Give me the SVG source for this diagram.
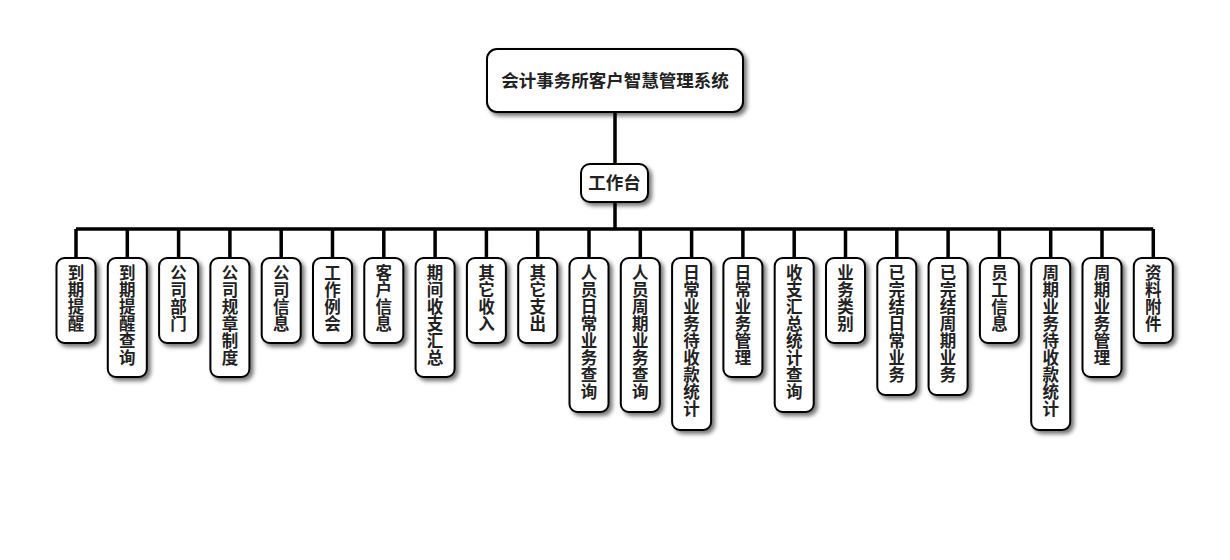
<svg xmlns="http://www.w3.org/2000/svg" width="1230" height="560" viewBox="0 0 1230 560">
<defs>
<filter id="sh" x="-30%" y="-30%" width="160%" height="160%">
<feDropShadow dx="3" dy="3" stdDeviation="2" flood-color="#000" flood-opacity="0.55"/>
</filter>
<style>
.box{fill:#fff;stroke:#000;stroke-width:2;filter:url(#sh)}
.t{font-family:"Noto Sans CJK SC","Noto Sans",sans-serif;font-weight:bold;font-size:16.5px;fill:#222;text-anchor:middle}
.h{font-size:17.5px}
.c{stroke:#000;stroke-width:3.5;fill:none}
</style>
</defs>
<rect width="1230" height="560" fill="#fff"/>
<g id="connectors">
<path class="c" d="M615,112V164M615,202V229M76,229H1153.3"/>
<path class="c" d="M76,229V258M127.3,229V258M178.6,229V258M229.9,229V258M281.2,229V258M332.5,229V258M383.8,229V258M435.1,229V258M486.4,229V258M537.7,229V258M589,229V258M640.3,229V258M691.6,229V258M742.9,229V258M794.2,229V258M845.5,229V258M896.8,229V258M948.1,229V258M999.4,229V258M1050.7,229V258M1102,229V258M1153.3,229V258"/>
</g>
<g id="root"><rect class="box" x="487" y="49" width="256" height="63" rx="10"/><text class="t h" x="615" y="87">会计事务所客户智慧管理系统</text></g>
<g id="gzt"><rect class="box" x="581" y="164" width="67" height="38" rx="9"/><text class="t h" x="614.5" y="189">工作台</text></g>
<g id="n1"><rect class="box" x="56.5" y="258" width="39" height="85" rx="8"/><text class="t" x="76" y="279"><tspan x="76">到</tspan><tspan x="76" dy="17">期</tspan><tspan x="76" dy="17">提</tspan><tspan x="76" dy="17">醒</tspan></text></g>
<g id="n2"><rect class="box" x="107.8" y="258" width="39" height="119" rx="8"/><text class="t" y="279"><tspan x="127.3">到</tspan><tspan x="127.3" dy="17">期</tspan><tspan x="127.3" dy="17">提</tspan><tspan x="127.3" dy="17">醒</tspan><tspan x="127.3" dy="17">查</tspan><tspan x="127.3" dy="17">询</tspan></text></g>
<g id="n3"><rect class="box" x="159.1" y="258" width="39" height="85" rx="8"/><text class="t" y="279"><tspan x="178.6">公</tspan><tspan x="178.6" dy="17">司</tspan><tspan x="178.6" dy="17">部</tspan><tspan x="178.6" dy="17">门</tspan></text></g>
<g id="n4"><rect class="box" x="210.4" y="258" width="39" height="119" rx="8"/><text class="t" y="279"><tspan x="229.9">公</tspan><tspan x="229.9" dy="17">司</tspan><tspan x="229.9" dy="17">规</tspan><tspan x="229.9" dy="17">章</tspan><tspan x="229.9" dy="17">制</tspan><tspan x="229.9" dy="17">度</tspan></text></g>
<g id="n5"><rect class="box" x="261.7" y="258" width="39" height="85" rx="8"/><text class="t" y="279"><tspan x="281.2">公</tspan><tspan x="281.2" dy="17">司</tspan><tspan x="281.2" dy="17">信</tspan><tspan x="281.2" dy="17">息</tspan></text></g>
<g id="n6"><rect class="box" x="313" y="258" width="39" height="85" rx="8"/><text class="t" y="279"><tspan x="332.5">工</tspan><tspan x="332.5" dy="17">作</tspan><tspan x="332.5" dy="17">例</tspan><tspan x="332.5" dy="17">会</tspan></text></g>
<g id="n7"><rect class="box" x="364.3" y="258" width="39" height="85" rx="8"/><text class="t" y="279"><tspan x="383.8">客</tspan><tspan x="383.8" dy="17">户</tspan><tspan x="383.8" dy="17">信</tspan><tspan x="383.8" dy="17">息</tspan></text></g>
<g id="n8"><rect class="box" x="415.6" y="258" width="39" height="119" rx="8"/><text class="t" y="279"><tspan x="435.1">期</tspan><tspan x="435.1" dy="17">间</tspan><tspan x="435.1" dy="17">收</tspan><tspan x="435.1" dy="17">支</tspan><tspan x="435.1" dy="17">汇</tspan><tspan x="435.1" dy="17">总</tspan></text></g>
<g id="n9"><rect class="box" x="466.9" y="258" width="39" height="85" rx="8"/><text class="t" y="279"><tspan x="486.4">其</tspan><tspan x="486.4" dy="17">它</tspan><tspan x="486.4" dy="17">收</tspan><tspan x="486.4" dy="17">入</tspan></text></g>
<g id="n10"><rect class="box" x="518.2" y="258" width="39" height="85" rx="8"/><text class="t" y="279"><tspan x="537.7">其</tspan><tspan x="537.7" dy="17">它</tspan><tspan x="537.7" dy="17">支</tspan><tspan x="537.7" dy="17">出</tspan></text></g>
<g id="n11"><rect class="box" x="569.5" y="258" width="39" height="154" rx="8"/><text class="t" y="279"><tspan x="589">人</tspan><tspan x="589" dy="17">员</tspan><tspan x="589" dy="17">日</tspan><tspan x="589" dy="17">常</tspan><tspan x="589" dy="17">业</tspan><tspan x="589" dy="17">务</tspan><tspan x="589" dy="17">查</tspan><tspan x="589" dy="17">询</tspan></text></g>
<g id="n12"><rect class="box" x="620.8" y="258" width="39" height="154" rx="8"/><text class="t" y="279"><tspan x="640.3">人</tspan><tspan x="640.3" dy="17">员</tspan><tspan x="640.3" dy="17">周</tspan><tspan x="640.3" dy="17">期</tspan><tspan x="640.3" dy="17">业</tspan><tspan x="640.3" dy="17">务</tspan><tspan x="640.3" dy="17">查</tspan><tspan x="640.3" dy="17">询</tspan></text></g>
<g id="n13"><rect class="box" x="672.1" y="258" width="39" height="172" rx="8"/><text class="t" y="279"><tspan x="691.6">日</tspan><tspan x="691.6" dy="17">常</tspan><tspan x="691.6" dy="17">业</tspan><tspan x="691.6" dy="17">务</tspan><tspan x="691.6" dy="17">待</tspan><tspan x="691.6" dy="17">收</tspan><tspan x="691.6" dy="17">款</tspan><tspan x="691.6" dy="17">统</tspan><tspan x="691.6" dy="17">计</tspan></text></g>
<g id="n14"><rect class="box" x="723.4" y="258" width="39" height="119" rx="8"/><text class="t" y="279"><tspan x="742.9">日</tspan><tspan x="742.9" dy="17">常</tspan><tspan x="742.9" dy="17">业</tspan><tspan x="742.9" dy="17">务</tspan><tspan x="742.9" dy="17">管</tspan><tspan x="742.9" dy="17">理</tspan></text></g>
<g id="n15"><rect class="box" x="774.7" y="258" width="39" height="154" rx="8"/><text class="t" y="279"><tspan x="794.2">收</tspan><tspan x="794.2" dy="17">支</tspan><tspan x="794.2" dy="17">汇</tspan><tspan x="794.2" dy="17">总</tspan><tspan x="794.2" dy="17">统</tspan><tspan x="794.2" dy="17">计</tspan><tspan x="794.2" dy="17">查</tspan><tspan x="794.2" dy="17">询</tspan></text></g>
<g id="n16"><rect class="box" x="826" y="258" width="39" height="85" rx="8"/><text class="t" y="279"><tspan x="845.5">业</tspan><tspan x="845.5" dy="17">务</tspan><tspan x="845.5" dy="17">类</tspan><tspan x="845.5" dy="17">别</tspan></text></g>
<g id="n17"><rect class="box" x="877.3" y="258" width="39" height="137" rx="8"/><text class="t" y="279"><tspan x="896.8">已</tspan><tspan x="896.8" dy="17">完</tspan><tspan x="896.8" dy="17">结</tspan><tspan x="896.8" dy="17">日</tspan><tspan x="896.8" dy="17">常</tspan><tspan x="896.8" dy="17">业</tspan><tspan x="896.8" dy="17">务</tspan></text></g>
<g id="n18"><rect class="box" x="928.6" y="258" width="39" height="137" rx="8"/><text class="t" y="279"><tspan x="948.1">已</tspan><tspan x="948.1" dy="17">完</tspan><tspan x="948.1" dy="17">结</tspan><tspan x="948.1" dy="17">周</tspan><tspan x="948.1" dy="17">期</tspan><tspan x="948.1" dy="17">业</tspan><tspan x="948.1" dy="17">务</tspan></text></g>
<g id="n19"><rect class="box" x="979.9" y="258" width="39" height="85" rx="8"/><text class="t" y="279"><tspan x="999.4">员</tspan><tspan x="999.4" dy="17">工</tspan><tspan x="999.4" dy="17">信</tspan><tspan x="999.4" dy="17">息</tspan></text></g>
<g id="n20"><rect class="box" x="1031.2" y="258" width="39" height="172" rx="8"/><text class="t" y="279"><tspan x="1050.7">周</tspan><tspan x="1050.7" dy="17">期</tspan><tspan x="1050.7" dy="17">业</tspan><tspan x="1050.7" dy="17">务</tspan><tspan x="1050.7" dy="17">待</tspan><tspan x="1050.7" dy="17">收</tspan><tspan x="1050.7" dy="17">款</tspan><tspan x="1050.7" dy="17">统</tspan><tspan x="1050.7" dy="17">计</tspan></text></g>
<g id="n21"><rect class="box" x="1082.5" y="258" width="39" height="119" rx="8"/><text class="t" y="279"><tspan x="1102">周</tspan><tspan x="1102" dy="17">期</tspan><tspan x="1102" dy="17">业</tspan><tspan x="1102" dy="17">务</tspan><tspan x="1102" dy="17">管</tspan><tspan x="1102" dy="17">理</tspan></text></g>
<g id="n22"><rect class="box" x="1133.8" y="258" width="39" height="85" rx="8"/><text class="t" y="279"><tspan x="1153.3">资</tspan><tspan x="1153.3" dy="17">料</tspan><tspan x="1153.3" dy="17">附</tspan><tspan x="1153.3" dy="17">件</tspan></text></g>
</svg>
